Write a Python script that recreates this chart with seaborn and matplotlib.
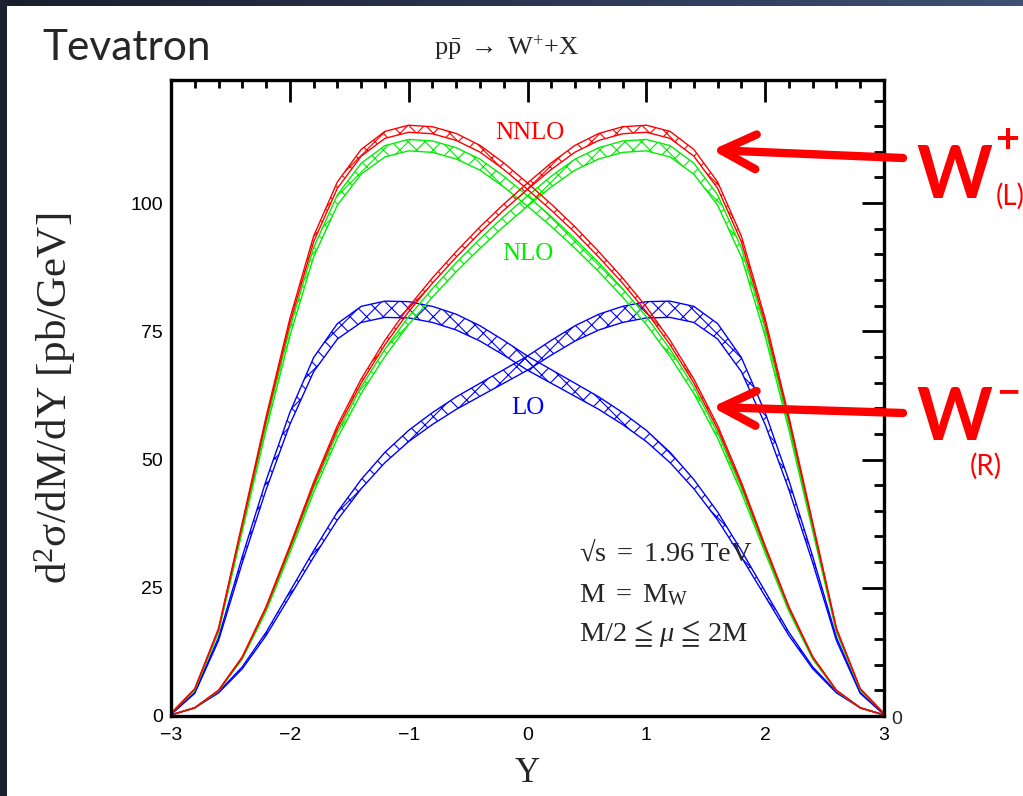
import numpy as np
import pandas as pd
import matplotlib
matplotlib.use("Agg")
import matplotlib.pyplot as plt
import seaborn as sns
from matplotlib.ticker import MultipleLocator
from matplotlib.colors import LinearSegmentedColormap

# ---------------- data ----------------
rapidity = [-3.0, -2.8, -2.6, -2.4, -2.2, -2.0, -1.8, -1.6, -1.4, -1.2, -1.0,
            -0.8, -0.6, -0.4, -0.2, 0.0, 0.2, 0.4, 0.6, 0.8, 1.0,
            1.2, 1.4, 1.6, 1.8, 2.0, 2.2, 2.4, 2.6, 2.8, 3.0]

wminus_nnlo = [0.5, 5.3, 17.0, 37.5, 58.0, 77.0, 93.0, 103.5, 109.8, 113.3, 114.5,
               114.2, 112.9, 110.6, 107.2, 103.3, 99.2, 94.8, 90.0, 84.9, 79.3,
               72.8, 65.3, 56.3, 45.3, 33.0, 21.2, 11.5, 5.0, 1.6, 0.2]
wplus_nnlo = [0.2, 1.6, 5.0, 11.5, 21.2, 33.0, 45.3, 56.3, 65.3, 72.8, 79.3,
              84.9, 90.0, 94.8, 99.2, 103.3, 107.2, 110.6, 112.9, 114.2, 114.5,
              113.3, 109.8, 103.5, 93.0, 77.0, 58.0, 37.5, 17.0, 5.3, 0.5]

wminus_nlo = [0.5, 5.1, 16.5, 36.4, 56.3, 74.8, 90.4, 100.6, 106.7, 110.1, 111.3,
              111.0, 109.7, 107.5, 104.2, 100.4, 96.4, 92.1, 87.5, 82.5, 77.1,
              70.8, 63.5, 54.7, 44.0, 32.1, 20.6, 11.2, 4.9, 1.6, 0.2]
wplus_nlo = [0.2, 1.6, 4.9, 11.2, 20.6, 32.1, 44.0, 54.7, 63.5, 70.8, 77.1,
             82.5, 87.5, 92.1, 96.4, 100.4, 104.2, 107.5, 109.7, 111.0, 111.3,
             110.1, 106.7, 100.6, 90.4, 74.8, 56.3, 36.4, 16.5, 5.1, 0.5]

wminus_lo = [0.3, 4.5, 15.0, 30.5, 45.0, 58.0, 68.5, 75.0, 78.3, 79.3, 79.2,
             78.3, 76.8, 74.6, 71.8, 68.8, 66.2, 63.6, 61.0, 58.0, 54.6,
             50.4, 45.2, 39.0, 31.6, 23.8, 16.0, 9.4, 4.6, 1.6, 0.2]
wplus_lo = [0.2, 1.6, 4.6, 9.4, 16.0, 23.8, 31.6, 39.0, 45.2, 50.4, 54.6,
            58.0, 61.0, 63.6, 66.2, 68.8, 71.8, 74.6, 76.8, 78.3, 79.2,
            79.3, 78.3, 75.0, 68.5, 58.0, 45.0, 30.5, 15.0, 4.5, 0.3]

orders = ["LO", "NLO", "NNLO"]
# relative scale uncertainty (M/2 <= mu <= 2M), half-width of each band
scale_unc = [0.020, 0.010, 0.006]

x_ticks = [-3, -2, -1, 0, 1, 2, 3]
x_tick_labels = ["\u22123", "\u22122", "\u22121", "0", "1", "2", "3"]
y_ticks = [0, 25, 50, 75, 100]

# ---------------- build table ----------------
series = {("LO", "W+"): wplus_lo, ("LO", "W-"): wminus_lo,
          ("NLO", "W+"): wplus_nlo, ("NLO", "W-"): wminus_nlo,
          ("NNLO", "W+"): wplus_nnlo, ("NNLO", "W-"): wminus_nnlo}
rows = []
for (order, boson), vals in series.items():
    u = scale_unc[orders.index(order)]
    for y, v in zip(rapidity, vals):
        rows.append(dict(Y=y, value=v, lo=v * (1 - u), hi=v * (1 + u),
                         order=order, boson=boson))
df = pd.DataFrame(rows)

colors = {"LO": "#0000ff", "NLO": "#00ee00", "NNLO": "#ff0000"}

# ---------------- figure ----------------
sns.set_theme(style="white")
plt.rcParams["font.family"] = ["Liberation Serif", "DejaVu Serif"]
plt.rcParams["mathtext.fontset"] = "custom"
plt.rcParams["mathtext.rm"] = "Liberation Serif"
plt.rcParams["mathtext.it"] = "Liberation Serif:italic"
plt.rcParams["mathtext.bf"] = "Liberation Serif:bold"
plt.rcParams["hatch.linewidth"] = 0.8

W, H = 1023, 796
fig = plt.figure(figsize=(W / 100, H / 100), dpi=100)
fig.patch.set_facecolor("white")

# slide border strips
top = fig.add_axes([0, 1 - 6 / H, 1, 6 / H])
grad = np.linspace(0, 1, 256)[None, :]
cmap = LinearSegmentedColormap.from_list("slide", ["#1a1f2d", "#2a3550", "#3e5074"])
top.imshow(grad, aspect="auto", cmap=cmap)
top.set_axis_off()
left = fig.add_axes([0, 0, 7 / W, 1])
left.set_facecolor("#1b2130")
left.set_xticks([]); left.set_yticks([])
for s in left.spines.values():
    s.set_visible(False)

ax = fig.add_axes([171 / W, 1 - 716 / H, (884 - 171) / W, (716 - 80) / H])
ax.set_facecolor("white")

for (order, boson), sub in df.groupby(["order", "boson"]):
    c = colors[order]
    ax.fill_between(sub["Y"], sub["lo"], sub["hi"], facecolor="none",
                    edgecolor=c, hatch="xx", linewidth=0)
    sns.lineplot(data=sub, x="Y", y="lo", color=c, lw=1.0, ax=ax,
                 estimator=None, legend=False)
    sns.lineplot(data=sub, x="Y", y="hi", color=c, lw=1.0, ax=ax,
                 estimator=None, legend=False)

ax.set_xlim(-3, 3)
ax.set_ylim(0, 124)
ax.set_xlabel("")
ax.set_ylabel("")
ax.set_xticks(x_ticks)
ax.set_yticks(y_ticks)
ax.set_xticklabels(x_tick_labels)
ax.xaxis.set_minor_locator(MultipleLocator(0.2))
ax.yaxis.set_minor_locator(MultipleLocator(5))
ax.tick_params(which="both", direction="in", top=True, right=True,
               width=2.0, colors="black", labelsize=14)
ax.tick_params(which="major", length=16)
ax.tick_params(axis="x", which="major", pad=8)
ax.tick_params(axis="y", which="major", pad=6)
ax.tick_params(axis="x", which="minor", length=6)
ax.tick_params(axis="y", which="minor", length=7)
for lab in ax.get_xticklabels() + ax.get_yticklabels():
    lab.set_family("Liberation Sans")
for s in ax.spines.values():
    s.set_linewidth(2.4)
    s.set_color("black")

# labels on curves
ax.text(0.02, 113.6, "NNLO", color="#ff0000", fontsize=18, ha="center", va="center")
ax.text(0.0, 90.1, "NLO", color="#00ee00", fontsize=18, ha="center", va="center")
ax.text(0.0, 60.0, "LO", color="#0000ff", fontsize=18, ha="center", va="center")

ax.text(0.43, 31.8, "$\u221a\\mathrm{s}\\ =\\ 1.96\\ \\mathrm{TeV}$", fontsize=20.5, ha="left", va="center")
ax.text(0.43, 23.6, r"$\mathrm{M}\ =\ \mathrm{M}_{\mathrm{W}}$", fontsize=20.5, ha="left", va="center")
ax.text(0.43, 16.0, "$\\mathrm{M/2}\\ \u2266\\ \\mu\\ \u2266\\ \\mathrm{2M}$", fontsize=20.5, ha="left", va="center")

# figure texts
fig.text(42 / W, 1 - 48 / H, "Tevatron", fontsize=30.5, family="Lato", ha="left", va="center")
fig.text(506 / W, 1 - 48 / H, r"$\mathrm{p\bar{p}}\ \rightarrow\ \mathrm{W^{+}{+}X}$",
         fontsize=19, ha="center", va="center")
fig.text(55 / W, 1 - 398 / H, r"$\mathrm{d^{2}\sigma/dM/dY\ [pb/GeV]}$",
         fontsize=31, rotation=90, ha="center", va="center")
fig.text(527 / W, 1 - 773 / H, "Y", fontsize=25, ha="center", va="center")
fig.text(897 / W, 1 - 720 / H, "0", fontsize=14, family="Liberation Sans", ha="center", va="center")

# arrows
for tail, tip in [((903, 158), (712, 150)), ((903, 413), (712, 407))]:
    ax.annotate("", xy=(tip[0], H - tip[1]), xytext=(tail[0], H - tail[1]),
                xycoords="figure pixels", textcoords="figure pixels",
                arrowprops=dict(arrowstyle="->,head_length=1.0,head_width=0.5",
                                lw=6, color="#ff0000", shrinkA=0, shrinkB=0,
                                mutation_scale=25),
                annotation_clip=False)

red = "#ff0000"
fig.text(916 / W, 1 - 198 / H, "W", fontsize=52, fontweight="bold", family="Lato", color=red, ha="left", va="baseline")
fig.text(995 / W, 1 - 153 / H, "+", fontsize=30, fontweight="bold", family="Lato", color=red, ha="left", va="baseline")
fig.text(996 / W, 1 - 205 / H, "(L)", fontsize=20, family="Lato", color=red, ha="left", va="baseline")
fig.text(916 / W, 1 - 440 / H, "W", fontsize=52, fontweight="bold", family="Lato", color=red, ha="left", va="baseline")
fig.text(996 / W, 1 - 405 / H, "\u2212", fontsize=30, fontweight="bold", family="Lato", color=red, ha="left", va="baseline")
fig.text(970 / W, 1 - 475 / H, "(R)", fontsize=20, family="Lato", color=red, ha="left", va="baseline")

fig.savefig("out.png", dpi=100)
